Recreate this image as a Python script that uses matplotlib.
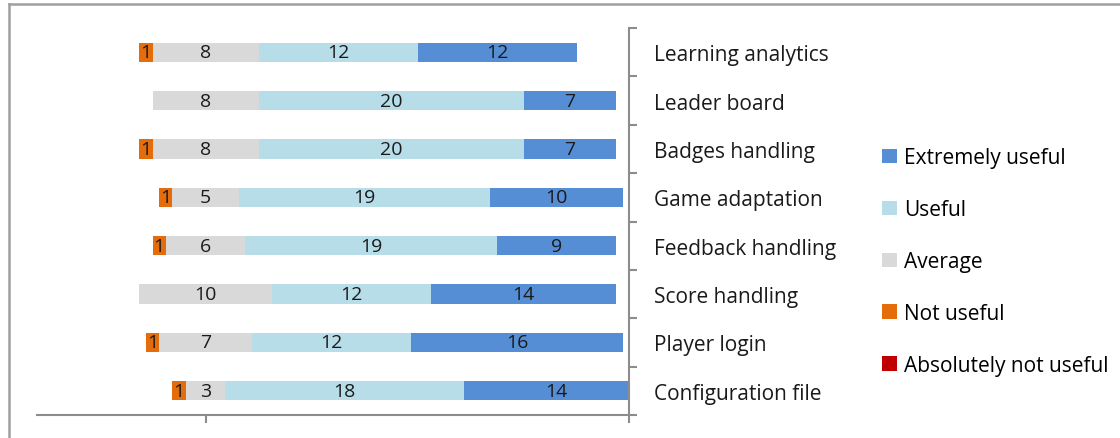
import numpy as np
import matplotlib
matplotlib.use('Agg')
import matplotlib.pyplot as plt
from matplotlib.lines import Line2D
from matplotlib.patches import Patch

# Survey answers per feature (counts)
categories = ['Learning analytics', 'Leader board', 'Badges handling', 'Game adaptation',
              'Feedback handling', 'Score handling', 'Player login', 'Configuration file']
absolutely_not_useful = [0, 0, 0, 0, 0, 0, 0, 0]
not_useful = [1, 0, 1, 1, 1, 0, 1, 1]
average = [8, 8, 8, 5, 6, 10, 7, 3]
useful = [12, 20, 20, 19, 19, 12, 12, 18]
extremely_useful = [12, 7, 7, 10, 9, 14, 16, 14]

series = [('Absolutely not useful', absolutely_not_useful, '#C00000'),
          ('Not useful', not_useful, '#E46C0A'),
          ('Average', average, '#D9D9D9'),
          ('Useful', useful, '#B7DEE8'),
          ('Extremely useful', extremely_useful, '#558ED5')]

plt.rcParams['font.family'] = ['Open Sans', 'DejaVu Sans']
FS = 15
FS_LBL = 14

fig = plt.figure(figsize=(11.2, 4.39), dpi=100)
ax = fig.add_axes([37 / 1120, 1 - 416 / 439, (629.5 - 37) / 1120, (416 - 29) / 439])

y = np.arange(len(categories))
# diverging layout: average is split around zero
left = -(np.array(absolutely_not_useful) + np.array(not_useful) + np.array(average) / 2.0)
for name, vals, color in series:
    vals = np.array(vals, dtype=float)
    ax.barh(y, vals, left=left, height=0.4, color=color, edgecolor='none', label=name)
    for yi, (l, v) in enumerate(zip(left, vals)):
        if v > 0:
            ax.text(l + v / 2, yi, f'{int(v)}', ha='center', va='center',
                    fontsize=FS_LBL, color='#1a1a1a')
    left = left + vals

ax.set_xlim(-12.72, 32)
ax.set_ylim(len(categories) - 0.5, -0.5)

# spines
for s in ['left', 'top']:
    ax.spines[s].set_visible(False)
for s in ['bottom', 'right']:
    ax.spines[s].set_color('#8c8c8c')
    ax.spines[s].set_linewidth(1.5)

ax.set_xticks([0, 32])
ax.set_xticklabels([])
ax.tick_params(axis='x', direction='out', length=6, width=1.5, color='#8c8c8c')

ax.yaxis.tick_right()
ax.set_yticks(y)
ax.set_yticklabels(categories, fontsize=FS, color='#1a1a1a')
ax.set_yticks(np.arange(-0.5, len(categories)), minor=True)
ax.tick_params(axis='y', which='major', length=0, pad=17.5)
ax.tick_params(axis='y', which='minor', direction='out', length=6, width=1.5, color='#8c8c8c')
for lbl in ax.get_yticklabels():
    lbl.set_horizontalalignment('left')

handles = [Patch(facecolor=c, edgecolor='none', label=n) for n, v, c in reversed(series)]
fig.legend(handles=handles, loc='center left', bbox_to_anchor=(872 / 1120, 1 - 262.5 / 439),
           frameon=False, fontsize=FS, handlelength=0.68, handleheight=0.68,
           handletextpad=0.35, labelspacing=1.48, borderpad=0)

# outer frame of the original chart area
fig.add_artist(Line2D([9 / 1120, 1], [1 - 5 / 439, 1 - 5 / 439], color='#a0a0a0', lw=1.8))
fig.add_artist(Line2D([9 / 1120, 9 / 1120], [0, 1 - 5 / 439], color='#a0a0a0', lw=1.8))

fig.savefig('out.png', dpi=100, facecolor='white')
